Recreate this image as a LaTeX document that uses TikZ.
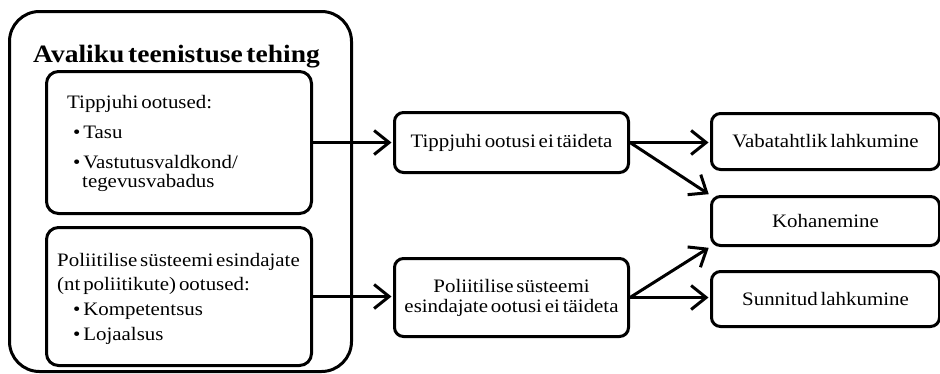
\documentclass[tikz,border=0pt]{standalone}
\usepackage{fontspec}
\setmainfont[FakeStretch=1.1,WordSpace=0.55]{Liberation Serif}
\usetikzlibrary{arrows.meta}
\begin{document}
\begin{tikzpicture}[x=1pt,y=-1pt,
  box/.style={draw=black,line width=3pt,rounded corners=9pt,anchor=north west,inner sep=0pt},
  txt/.style={font=\fontsize{19}{20}\selectfont,inner sep=0pt},
  ltxt/.style={txt,anchor=base west},
  arr/.style={line width=3pt,line cap=round,-{Straight Barb[length=15pt,width=24pt,line width=3pt]},shorten >=1.5pt}]
\useasboundingbox (0,0) rectangle (940,373);
% outer box
\node[box,rounded corners=30pt,minimum width=342pt,minimum height=360pt] (outer) at (8,10) {};
\node[anchor=base west,inner sep=0pt,font=\fontsize{25}{28}\selectfont\bfseries] (title) at (33,62) {Avaliku teenistuse tehing};
% inner boxes
\node[box,rounded corners=12pt,minimum width=265pt,minimum height=142pt] (ib1) at (45,70) {};
\node[ltxt] (t1) at (67,108) {Tippjuhi ootused:};
\node[ltxt] (t2) at (73,138) {\textbullet\ Tasu};
\node[ltxt] (t3) at (73,168) {\textbullet\ Vastutusvaldkond/};
\node[ltxt] (t4) at (82,187) {tegevusvabadus};
\node[box,rounded corners=12pt,minimum width=265pt,minimum height=138pt] (ib2) at (45,226) {};
\node[ltxt] (u1) at (57,266) {Poliitilise süsteemi esindajate};
\node[ltxt] (u2) at (57,290) {(nt poliitikute) ootused:};
\node[ltxt] (u3) at (73,315) {\textbullet\ Kompetentsus};
\node[ltxt] (u4) at (73,340) {\textbullet\ Lojaalsus};
% middle boxes
\node[box,minimum width=234pt,minimum height=60pt] (A) at (393,111) {};
\node[txt] at (A.center) {Tippjuhi ootusi ei täideta};
\node[box,minimum width=234pt,minimum height=78pt] (B) at (393,257) {};
\node[txt,align=center] at (B.center) {Poliitilise süsteemi\\esindajate ootusi ei täideta};
% right boxes
\node[box,minimum width=228pt,minimum height=56pt] (V) at (710,112) {};
\node[txt] at (V.center) {Vabatahtlik lahkumine};
\node[box,minimum width=228pt,minimum height=49pt] (K) at (710,195) {};
\node[txt] at (K.center) {Kohanemine};
\node[box,minimum width=228pt,minimum height=55pt] (S) at (710,270) {};
\node[txt] at (S.center) {Sunnitud lahkumine};
% connectors
\draw[arr] (ib1.east) -- (ib1.east -| A.west);
\draw[arr] (ib2.east) -- (ib2.east -| B.west);
\draw[arr] (A.east) -- (A.east -| V.west);
\draw[arr] (A.east) -- (K.north west);
\draw[arr] (B.east) -- (K.south west);
\draw[arr] (B.east) -- (B.east -| S.west);
\end{tikzpicture}
\end{document}
